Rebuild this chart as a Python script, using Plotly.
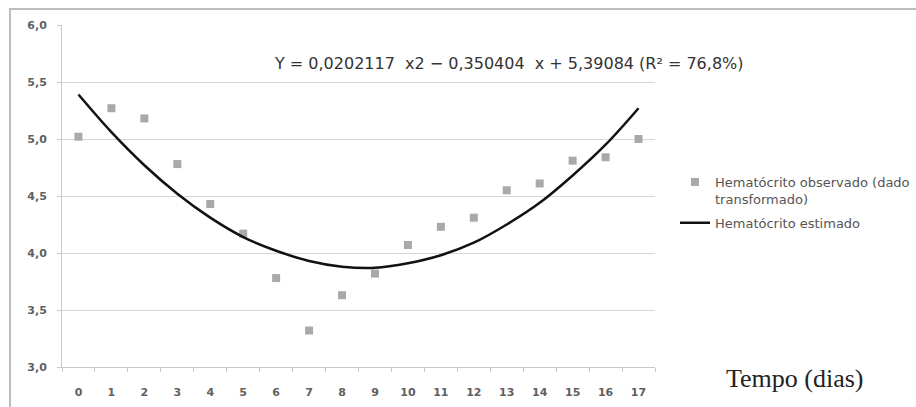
import plotly.graph_objects as go

# Days of follow-up
dias = list(range(18))

# Observed hematocrit (transformed data)
observado = [5.02, 5.27, 5.18, 4.78, 4.43, 4.17, 3.78, 3.32, 3.63, 3.82,
             4.07, 4.23, 4.31, 4.55, 4.61, 4.81, 4.84, 5.00]

# Estimated hematocrit from the quadratic fit
estimado = [5.39, 5.06, 4.77, 4.52, 4.31, 4.14, 4.02, 3.93, 3.88, 3.87,
            3.91, 3.98, 4.09, 4.25, 4.44, 4.68, 4.95, 5.27]

y_ticks = [3.0, 3.5, 4.0, 4.5, 5.0, 5.5, 6.0]
equacao = "Y = 0,0202117  x2 \u2212 0,350404  x + 5,39084 (R\u00b2 = 76,8%)"
titulo_x = "Tempo (dias)"

W, H = 916, 407
L, R, T, B = 62, 261, 25, 40
pw, ph = W - L - R, H - T - B


def px(xp):
    return (xp - L) / pw


def py(yp):
    return (H - B - yp) / ph


fig = go.Figure()

fig.add_trace(go.Scatter(
    x=dias, y=observado, mode="markers", legendgroup="obs",
    name="Hematócrito observado (dado<br>transformado)",
    marker=dict(symbol="square", size=8, color="#a9a9a9"),
))
fig.add_trace(go.Scatter(
    x=dias, y=estimado, mode="lines", line_shape="spline", legendgroup="est",
    name="Hematócrito estimado",
    line=dict(color="#111111", width=2.5),
))

tick_font = dict(family="DejaVu Sans", size=11, color="#606060", weight="bold")

fig.update_layout(
    width=W, height=H,
    margin=dict(l=L, r=R, t=T, b=B, autoexpand=False),
    paper_bgcolor="white", plot_bgcolor="white",
    separators=",.",
    showlegend=True,
    legend=dict(
        x=px(675), y=py(167), xanchor="left", yanchor="top",
        font=dict(family="DejaVu Sans", size=13, color="#555555"),
        bgcolor="rgba(0,0,0,0)", traceorder="grouped", tracegroupgap=4,
        itemwidth=30, valign="top",
    ),
    xaxis=dict(
        range=[-0.5, 17.5], tickmode="array", tickvals=dias,
        ticktext=[str(d) for d in dias],
        showgrid=False, zeroline=False, automargin=False,
        showline=True, linecolor="#c8c8c8", linewidth=1,
        ticks="", tickfont=tick_font, ticklabelstandoff=15,
        minor=dict(tick0=0.5, dtick=1, ticks="outside", ticklen=4,
                   tickcolor="#c8c8c8", showgrid=False),
    ),
    yaxis=dict(
        range=[3.0, 6.0], tickmode="array", tickvals=y_ticks,
        tickformat=".1f", automargin=False,
        showgrid=True, gridcolor="#d6d6d6", gridwidth=1,
        zeroline=False,
        showline=True, linecolor="#c8c8c8", linewidth=1,
        ticks="outside", ticklen=4, tickcolor="#c8c8c8",
        tickfont=tick_font, ticklabelstandoff=8,
    ),
)

# Chart frame
fig.add_shape(type="rect", xref="paper", yref="paper",
              x0=px(10), y0=py(420), x1=px(930), y1=py(9),
              line=dict(color="#bdbdbd", width=2), layer="below")

# Regression equation
fig.add_annotation(
    text=equacao, xref="paper", yref="paper",
    x=px(272), y=py(63), xanchor="left", yanchor="middle",
    showarrow=False,
    font=dict(family="DejaVu Sans", size=16, color="#333333"),
)

# Axis caption
fig.add_annotation(
    text=titulo_x, xref="paper", yref="paper",
    x=px(795), y=py(378), xanchor="center", yanchor="middle",
    showarrow=False,
    font=dict(family="Liberation Serif", size=26, color="#222222"),
)

fig.write_html("out.html")
